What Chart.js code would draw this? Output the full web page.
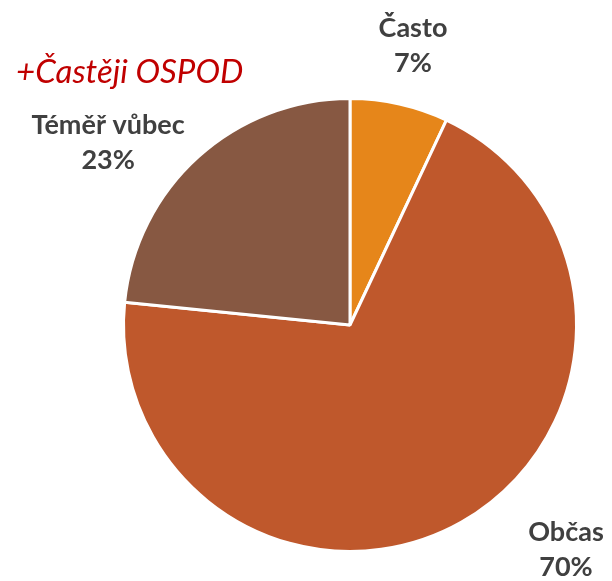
<!DOCTYPE html>
<html><head><meta charset="utf-8">
<script src="https://cdn.jsdelivr.net/npm/chart.js@4"></script>
<style>html,body{margin:0;padding:0;background:#fff}#wrap{width:612px;height:581px}</style>
</head><body><div id="wrap"><canvas id="c" width="612" height="581"></canvas></div>
<script>
const categories = ['Často', 'Občas', 'Téměř vůbec'];
const sliceValues = [7.0, 69.6, 23.4];
const percentLabels = ['7%', '70%', '23%'];
const sliceColors = ['#E6861A', '#BF582C', '#875842'];
const titleText = '+Častěji OSPOD';
// label anchor offsets relative to pie center, in units of radius
const labelOffsets = [[0.28, -1.24], [0.96, 1.0], [-1.075, -0.81]];

const labelPlugin = {
  id: 'labels',
  afterDraw(chart) {
    const ctx = chart.ctx;
    const meta = chart.getDatasetMeta(0);
    ctx.save();
    ctx.textAlign = 'center';
    ctx.textBaseline = 'middle';
    ctx.fillStyle = '#404040';
    ctx.font = 'bold 27px Lato';
    meta.data.forEach((arc, i) => {
      const r = arc.outerRadius - 1.5;
      const x = arc.x + labelOffsets[i][0] * r;
      const y = arc.y + labelOffsets[i][1] * r;
      ctx.fillText(categories[i], x, y - 17.5);
      ctx.fillText(percentLabels[i], x, y + 17.5);
    });
    ctx.textAlign = 'left';
    ctx.fillStyle = '#C00000';
    ctx.font = 'italic 33px Lato';
    ctx.fillText(titleText, 16, 72);
    ctx.restore();
  }
};

new Chart(document.getElementById('c'), {
  type: 'pie',
  data: { labels: categories, datasets: [{ data: sliceValues, backgroundColor: sliceColors, borderColor: '#ffffff', borderWidth: 3, hoverOffset: 0 }] },
  options: {
    responsive: false, animation: false,
    layout: { padding: { left: 122, right: 34, top: 97, bottom: 28 } },
    plugins: { legend: { display: false }, tooltip: { enabled: false }, title: { display: false } }
  },
  plugins: [labelPlugin]
});
</script></body></html>
